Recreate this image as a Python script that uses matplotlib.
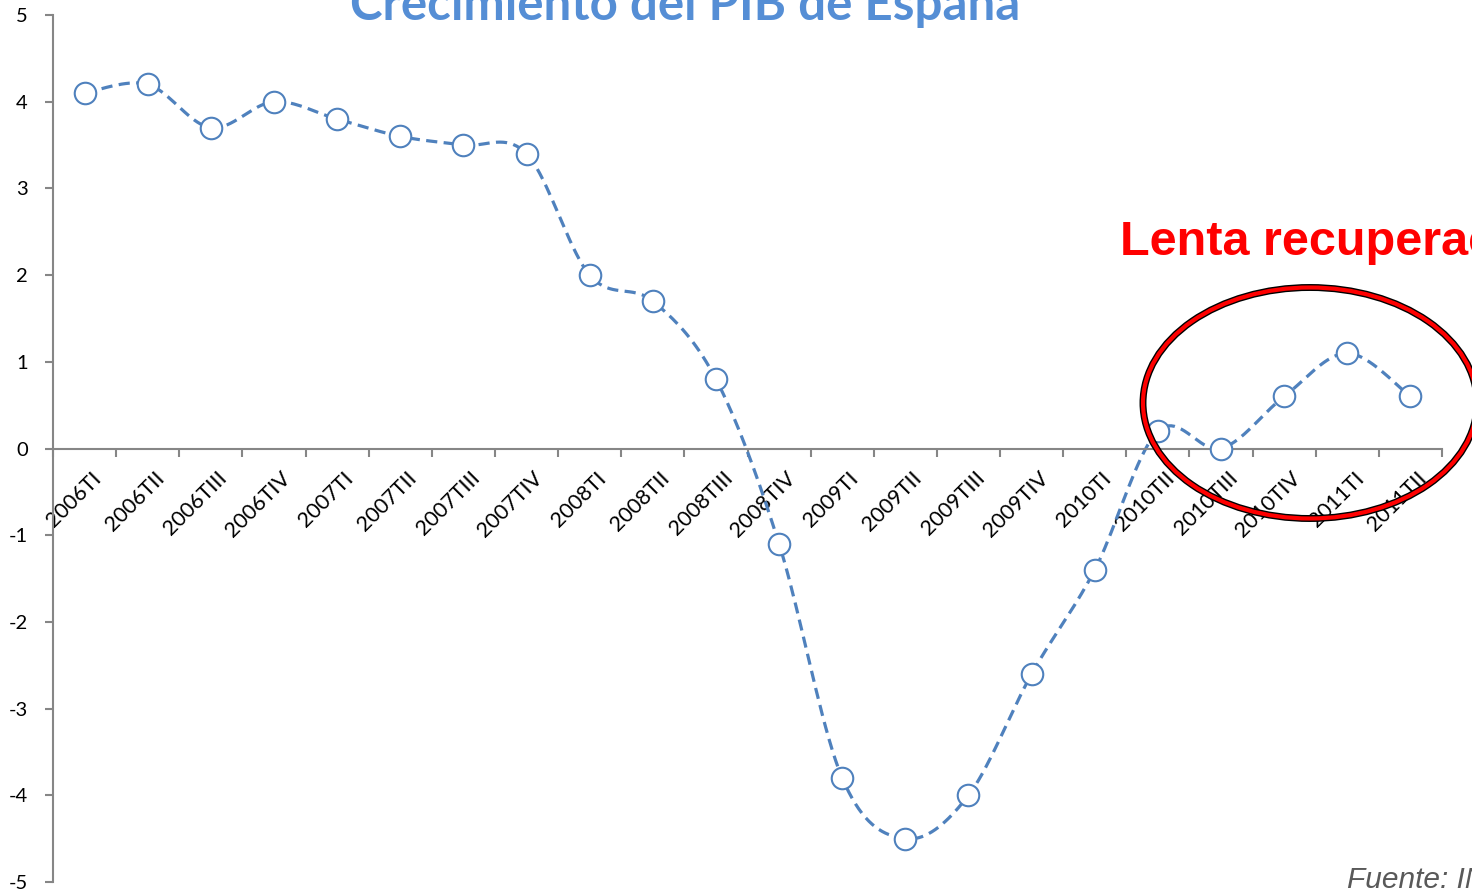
import numpy as np
import matplotlib.pyplot as plt
from matplotlib.patches import Ellipse

quarters = ['2006TI', '2006TII', '2006TIII', '2006TIV',
            '2007TI', '2007TII', '2007TIII', '2007TIV',
            '2008TI', '2008TII', '2008TIII', '2008TIV',
            '2009TI', '2009TII', '2009TIII', '2009TIV',
            '2010TI', '2010TII', '2010TIII', '2010TIV',
            '2011TI', '2011TII']
pib = [4.1, 4.2, 3.7, 4.0, 3.8, 3.6, 3.5, 3.4, 2.0, 1.7, 0.8, -1.1,
       -3.8, -4.5, -4.0, -2.6, -1.4, 0.2, 0.0, 0.6, 1.1, 0.6]

title = 'Crecimiento del PIB de España'
note = 'Lenta recuperación'
source = 'Fuente: INE'

BLUE = '#4F81BD'
GRAY = '#868686'


def smooth(x, y, yscale=1.37, n=20):
    # excel-like smoothed line (bezier between the points)
    x = np.asarray(x, float)
    y = np.asarray(y, float) * yscale
    px = np.concatenate([[x[0]], x, [x[-1]]])
    py = np.concatenate([[y[0]], y, [y[-1]]])
    xs, ys = [], []
    for i in range(1, len(px) - 2):
        p0, p1, p2, p3 = (np.array([px[j], py[j]]) for j in range(i - 1, i + 3))
        c1 = p1 + (p2 - p0) / 6
        c2 = p2 - (p3 - p1) / 6
        t = np.linspace(0, 1, n)[:, None]
        b = ((1 - t) ** 3) * p1 + 3 * ((1 - t) ** 2) * t * c1 \
            + 3 * (1 - t) * t ** 2 * c2 + t ** 3 * p2
        xs.extend(b[:, 0])
        ys.extend(b[:, 1])
    return np.array(xs), np.array(ys) / yscale


plt.rcParams['font.family'] = ['Lato', 'DejaVu Sans']
plt.rcParams['axes.unicode_minus'] = False

W, H = 1472, 892
fig = plt.figure(figsize=(W / 100, H / 100), dpi=100)
ax = fig.add_axes([53 / W, (H - 882) / H, (1442 - 53) / W, (882 - 15) / H])

x = np.arange(len(quarters))
sx, sy = smooth(x, pib)
ax.plot(sx, sy, color=BLUE, lw=2.3, linestyle=(0, (3.5, 2)), zorder=2)
ax.plot(x, pib, linestyle='none', marker='o', ms=15.5, mfc='white',
        mec=BLUE, mew=1.5, zorder=3)

ax.set_xlim(-0.5, len(quarters) - 0.5)
ax.set_ylim(-5, 5)
ax.set_yticks(range(-5, 6))

for s in ['top', 'right']:
    ax.spines[s].set_visible(False)
ax.spines['left'].set_color(GRAY)
ax.spines['left'].set_linewidth(1.5)
ax.spines['bottom'].set_position(('data', 0))
ax.spines['bottom'].set_color(GRAY)
ax.spines['bottom'].set_linewidth(1.5)

ax.tick_params(axis='y', colors=GRAY, length=6, width=1.5, labelsize=14.5,
               labelcolor='black', pad=12)
ax.set_xticks(np.arange(len(quarters) + 1) - 0.5)
ax.set_xticklabels([])
ax.tick_params(axis='x', which='major', colors=GRAY, length=6, width=1.5)
ax.set_xticks(x + 0.1, minor=True)
ax.set_xticklabels(quarters, minor=True, rotation=45, ha='right',
                   va='top', rotation_mode='anchor', fontsize=15.5)
ax.tick_params(axis='x', which='minor', length=0, pad=14)

fig.text(685 / W, (H - 20) / H, title, ha='center', va='baseline',
         fontsize=35.5, fontweight='bold', color='#558ED5')
fig.text(1120 / W, (H - 255) / H, note, ha='left', va='baseline',
         fontsize=35, fontweight='bold', color='#FF0000',
         family='Liberation Sans')
fig.text(1347 / W, (H - 888) / H, source, ha='left', va='baseline',
         fontsize=21.5, style='italic', color='#595959',
         family='Liberation Sans')

for col, lw in [('black', 5), ('#FF0000', 3)]:
    fig.add_artist(Ellipse((1310 / W, (H - 403) / H), 334 / W, 231 / H,
                           transform=fig.transFigure, fill=False,
                           edgecolor=col, lw=lw, zorder=5))

fig.savefig('out.png', dpi=100)
